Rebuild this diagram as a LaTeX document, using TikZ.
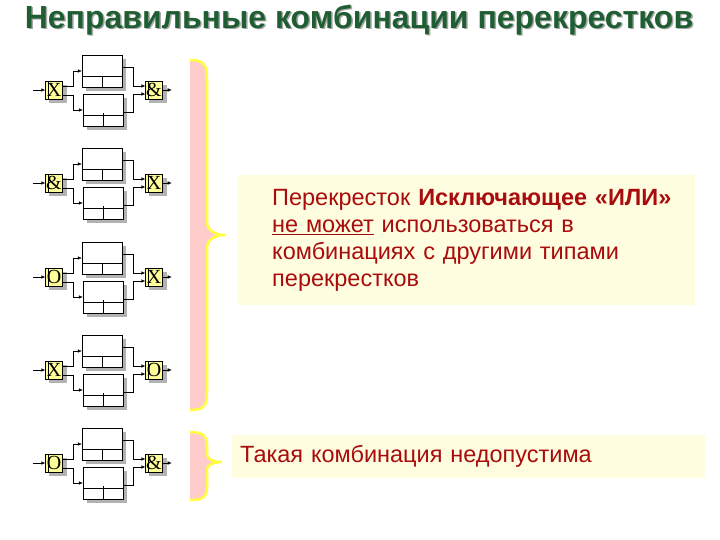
\documentclass[tikz,border=0pt]{standalone}
\usepackage{fontspec}
\setmainfont{Liberation Sans}
\newfontfamily\gatefont{Liberation Serif}
\usetikzlibrary{arrows.meta,calc,backgrounds}
\definecolor{titlegreen}{HTML}{1E5E32}
\definecolor{textred}{HTML}{A80C0C}
\definecolor{gateyellow}{HTML}{FFFF99}
\definecolor{notepaper}{HTML}{FFFDE0}
\definecolor{bracepink}{HTML}{FFCCCC}
\definecolor{braceyellow}{HTML}{FFFF40}
\tikzset{
  shade/.style={fill=gray!60},
  gate/.style={draw,fill=gateyellow,minimum width=17pt,minimum height=18pt,inner sep=0pt,
    font=\gatefont\fontsize{20}{20}\selectfont},
  blk/.style={draw,fill=white,minimum width=40pt,minimum height=32pt,inner sep=0pt},
  tip/.style={-{Latex[length=4pt,width=3.5pt]}},
  note/.style={fill=notepaper,text=textred,align=left,anchor=west,
    font=\fontsize{23.5}{27}\selectfont}
}
\begin{document}
\begin{tikzpicture}[x=1pt,y=-1pt]
\useasboundingbox (0,0) rectangle (720,540);
\node[font=\bfseries\fontsize{32}{32}\selectfont,text=gray!70] at (360.5,21.5) {Неправильные комбинации перекрестков};
\node[font=\bfseries\fontsize{32}{32}\selectfont,text=titlegreen] (title) at (359,20) {Неправильные комбинации перекрестков};
% units
\foreach \i/\yc/\lg/\rg in {1/90/X/\&,2/183/\&/X,3/277/O/X,4/370/X/O,5/463/O/\&}{
  \node[gate] (l\i) at (54,\yc) {\lg};
  \node[gate] (r\i) at (154,\yc) {\rg};
  \node[blk] (t\i) at (102,\yc-19) {};
  \node[blk] (b\i) at (103,\yc+20) {};
  \begin{pgfonlayer}{background}
  \foreach \n in {l\i,r\i,t\i,b\i}
    \fill[shade] ($(\n.south west)+(4,4)$) rectangle ($(\n.north east)+(4,4)$);
  \end{pgfonlayer}
  \draw ([xshift=3pt]l\i.north west) -- ([xshift=3pt]l\i.south west);
  \draw ([xshift=3pt]r\i.north west) -- ([xshift=3pt]r\i.south west);
  \draw ($(t\i.south west)!.34!(t\i.north west)$) -- ($(t\i.south east)!.34!(t\i.north east)$);
  \draw (t\i.south) -- ($(t\i.south)!.34!(t\i.north)$);
  \draw ($(b\i.south west)!.34!(b\i.north west)$) -- ($(b\i.south east)!.34!(b\i.north east)$);
  \draw[thick] (b\i.south) -- ($(b\i.south)!.4!(b\i.north)$);
  \draw[tip] ([xshift=-12pt]l\i.west) -- (l\i.west);
  \draw[tip] (r\i.east) -- ++(9,0);
  \draw[tip] ([yshift=4pt]l\i.east) -| ++(10,-10) |- (t\i.west);
  \draw[tip] ([yshift=-5pt]l\i.east) -| ++(10,10) |- (b\i.west);
  \draw[tip] ([yshift=4pt]t\i.east) -| ++(11,10) |- ([yshift=4pt]r\i.west);
  \draw[tip] ([yshift=-2.5pt]b\i.east) -| ++(10,-10) |- ([yshift=-4pt]r\i.west);
}
% braces
\fill[bracepink] (190,60) .. controls (205,60) and (207,66) .. (207,80) -- (207,222)
  .. controls (207,230) and (215,235) .. (225,235) .. controls (215,235) and (207,240) .. (207,248)
  -- (207,392) .. controls (207,405) and (205,410) .. (190,410) -- cycle;
\draw[braceyellow,line width=2.5pt] (190,60) .. controls (205,60) and (207,66) .. (207,80) -- (207,222)
  .. controls (207,230) and (215,235) .. (225,235) .. controls (215,235) and (207,240) .. (207,248)
  -- (207,392) .. controls (207,405) and (205,410) .. (190,410);
\fill[bracepink] (190,432) .. controls (203,432) and (207,436) .. (207,445) -- (207,455)
  .. controls (207,459) and (214,462) .. (222,462) .. controls (214,462) and (207,465) .. (207,469)
  -- (207,488) .. controls (207,497) and (203,500) .. (190,500) -- cycle;
\draw[braceyellow,line width=2.5pt] (190,432) .. controls (203,432) and (207,436) .. (207,445) -- (207,455)
  .. controls (207,459) and (214,462) .. (222,462) .. controls (214,462) and (207,465) .. (207,469)
  -- (207,488) .. controls (207,497) and (203,500) .. (190,500);
% notes
\node[note,text width=388pt,minimum height=130pt,inner xsep=35pt] (n1) at (237,240)
  {\mbox{Перекресток \textbf{Исключающее «ИЛИ»}}\\\underline{не может} использоваться в\\комбинациях с другими типами\\перекрестков};
\node[note,text width=457pt,minimum height=43pt,inner xsep=8pt] (n2) at (232,456)
  {Такая комбинация недопустима};
\end{tikzpicture}
\end{document}
